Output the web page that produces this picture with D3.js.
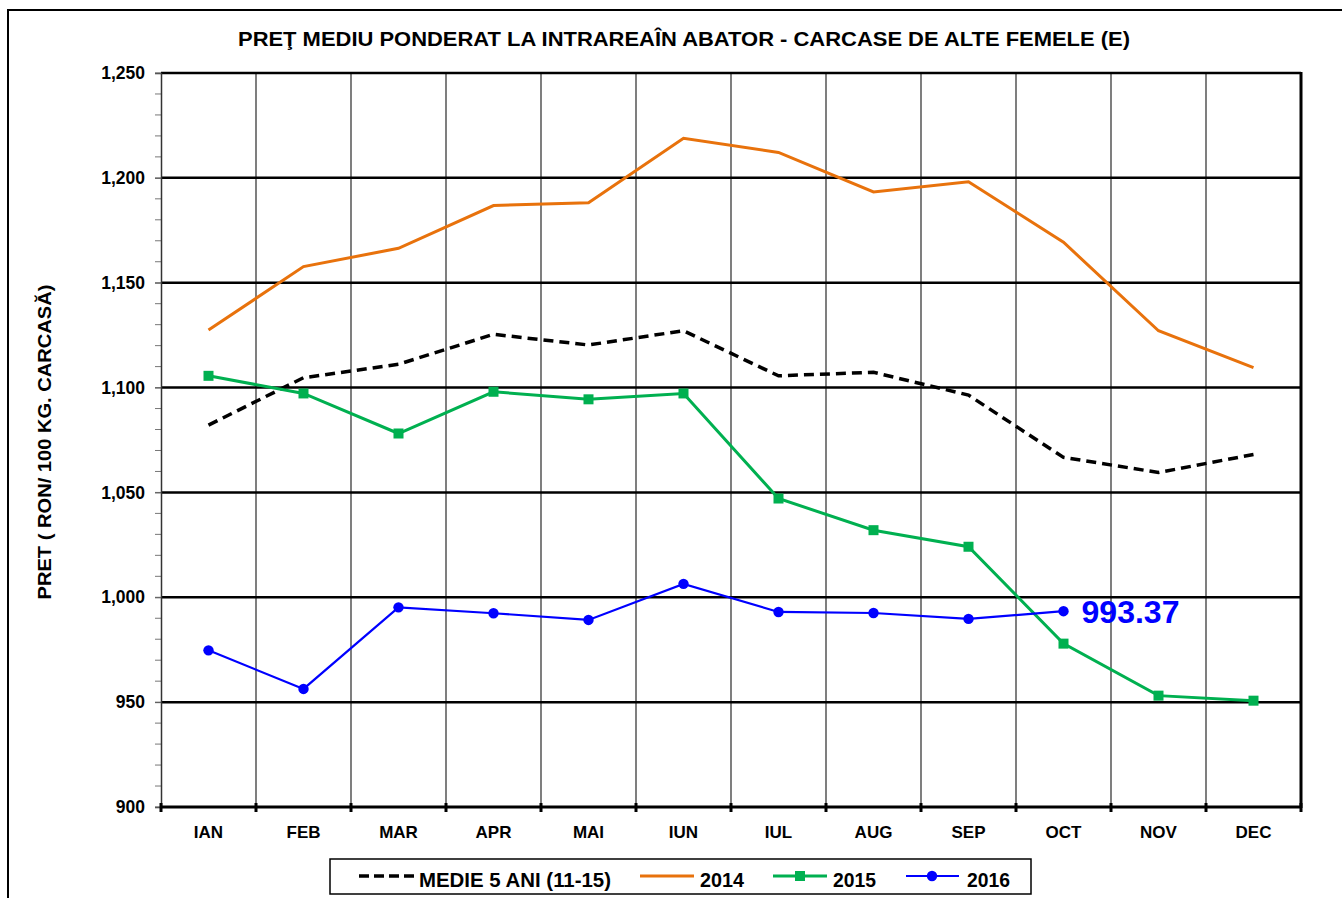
<!DOCTYPE html>
<html>
<head>
<meta charset="utf-8">
<script src="https://cdn.jsdelivr.net/npm/d3@7/dist/d3.min.js"></script>
<style>
  html, body { margin: 0; padding: 0; background: #fff; }
  svg { display: block; font-family: "Liberation Sans", Arial, sans-serif; }
</style>
</head>
<body>
<svg id="chart" width="1342" height="898"></svg>
<script>
const months = ["IAN","FEB","MAR","APR","MAI","IUN","IUL","AUG","SEP","OCT","NOV","DEC"];
const medie5 = [1082.1,1104.7,1111.1,1125.4,1120.3,1127.1,1105.6,1107.3,1096.4,1066.7,1059.5,1068.1];
const s2014  = [1127.4,1157.7,1166.4,1186.8,1188.1,1218.9,1212.1,1193.3,1198.1,1169.3,1127.1,1109.5];
const s2015  = [1105.6,1097.2,1078.1,1098.0,1094.4,1097.2,1047.1,1032.0,1024.1,977.9,953.1,950.7];
const s2016  = [974.7,956.3,995.2,992.4,989.2,1006.4,993.0,992.5,989.7,993.37];
const yTicks = [900,950,1000,1050,1100,1150,1200,1250];
const seriesNames = ["MEDIE 5 ANI (11-15)","2014","2015","2016"];
const titleText = "PREŢ MEDIU PONDERAT LA INTRAREAÎN ABATOR - CARCASE DE ALTE  FEMELE (E)";
const yTitle = "PRET ( RON/ 100 KG. CARCASĂ)";
const lastLabel = "993.37";

const svg = d3.select("#chart");
const L = 161, R = 1301, T = 73, B = 807;

const x = d3.scaleBand().domain(months).range([L, R]).padding(0);
const cx = m => x(m) + x.bandwidth() / 2;
const y = d3.scaleLinear().domain([900, 1250]).range([B, T]);

// outer frame
svg.append("path").attr("d", `M8,898 L8,10 L1342,10`).attr("fill","none").attr("stroke","#000").attr("stroke-width",2);

// title
svg.append("text").attr("x", 238).attr("y", 46)
  .attr("textLength", 892).attr("lengthAdjust","spacingAndGlyphs")
  .attr("font-size", 21).attr("font-weight","bold").text(titleText);

// vertical gridlines at band boundaries
const bounds = months.slice(1).map(m => x(m));
svg.append("g").selectAll("line").data(bounds).join("line")
  .attr("x1", d => d).attr("x2", d => d).attr("y1", T).attr("y2", B)
  .attr("stroke", "#3a3a3a").attr("stroke-width", 1.3);

// horizontal gridlines
svg.append("g").selectAll("line").data(yTicks.slice(1)).join("line")
  .attr("x1", L).attr("x2", R).attr("y1", d => y(d)).attr("y2", d => y(d))
  .attr("stroke", "#000").attr("stroke-width", 2.5);

// minor ticks on y
const minor = d3.range(900, 1251, 10);
svg.append("g").selectAll("line").data(minor).join("line")
  .attr("x1", L - 6).attr("x2", L).attr("y1", d => y(d)).attr("y2", d => y(d))
  .attr("stroke", "#777").attr("stroke-width", 1);

// y axis
const yAxis = d3.axisLeft(y).tickValues(yTicks).tickFormat(d3.format(",")).tickSize(6).tickPadding(10);
const gy = svg.append("g").attr("transform", `translate(${L},0)`).call(yAxis);
gy.select(".domain").attr("stroke","#333").attr("stroke-width",1.5);
gy.selectAll(".tick line").attr("stroke","#555");
gy.selectAll("text").attr("font-size",17.5).attr("font-weight","bold").attr("font-family","Liberation Sans, Arial, sans-serif").attr("fill","#000");

// right border
svg.append("line").attr("x1", R).attr("x2", R).attr("y1", T - 1).attr("y2", B + 1)
  .attr("stroke","#000").attr("stroke-width",3);

// x axis
const xAxis = d3.axisBottom(x).tickSize(0).tickPadding(19);
const gx = svg.append("g").attr("transform", `translate(0,${B})`).call(xAxis);
gx.select(".domain").remove();
gx.selectAll("text").attr("font-size",17).attr("font-weight","bold").attr("font-family","Liberation Sans, Arial, sans-serif").attr("fill","#000");
svg.append("line").attr("x1", L).attr("x2", R).attr("y1", B).attr("y2", B).attr("stroke","#000").attr("stroke-width",3);
svg.append("g").selectAll("line").data([L, ...bounds, R]).join("line")
  .attr("x1", d => d).attr("x2", d => d).attr("y1", B - 4).attr("y2", B + 5)
  .attr("stroke","#000").attr("stroke-width",3);

// lines
const line = d3.line().x((d,i) => cx(months[i])).y(d => y(d));
svg.append("path").datum(medie5).attr("d", line).attr("fill","none")
  .attr("stroke","#000").attr("stroke-width",3.5).attr("stroke-dasharray","10,6");
svg.append("path").datum(s2014).attr("d", line).attr("fill","none")
  .attr("stroke","#E8720C").attr("stroke-width",3);
svg.append("path").datum(s2015).attr("d", line).attr("fill","none")
  .attr("stroke","#00B050").attr("stroke-width",3);
svg.selectAll(".sq").data(s2015).join("rect").attr("class","sq")
  .attr("x",(d,i)=>cx(months[i])-5).attr("y",d=>y(d)-5).attr("width",10).attr("height",10)
  .attr("fill","#00B050");
svg.append("path").datum(s2016).attr("d", line).attr("fill","none")
  .attr("stroke","#0000FF").attr("stroke-width",2.2);
svg.selectAll(".dot").data(s2016).join("circle").attr("class","dot")
  .attr("cx",(d,i)=>cx(months[i])).attr("cy",d=>y(d)).attr("r",5.2).attr("fill","#0000FF");

// last value label
const li = s2016.length - 1;
svg.append("text").attr("x", cx(months[li]) + 18).attr("y", y(s2016[li]) + 12)
  .attr("textLength", 98).attr("lengthAdjust","spacingAndGlyphs")
  .attr("font-size",32).attr("font-weight","bold").attr("fill","#0000FF").text(lastLabel);

// y axis title
svg.append("text").attr("transform","translate(51,442) rotate(-90)")
  .attr("text-anchor","middle").attr("textLength", 315).attr("lengthAdjust","spacingAndGlyphs")
  .attr("font-size",18.5).attr("font-weight","bold").text(yTitle);

// legend
const lg = svg.append("g");
lg.append("rect").attr("x",330).attr("y",859).attr("width",701).attr("height",35)
  .attr("fill","#fff").attr("stroke","#000").attr("stroke-width",1.5);
const ly = 876;
lg.append("line").attr("x1",359).attr("x2",414).attr("y1",ly).attr("y2",ly)
  .attr("stroke","#000").attr("stroke-width",3.5).attr("stroke-dasharray","10,5");
lg.append("line").attr("x1",640).attr("x2",694).attr("y1",ly).attr("y2",ly)
  .attr("stroke","#E8720C").attr("stroke-width",3);
lg.append("line").attr("x1",773).attr("x2",827).attr("y1",ly).attr("y2",ly)
  .attr("stroke","#00B050").attr("stroke-width",3);
lg.append("rect").attr("x",795).attr("y",ly-5).attr("width",10).attr("height",10).attr("fill","#00B050");
lg.append("line").attr("x1",906).attr("x2",959).attr("y1",ly).attr("y2",ly)
  .attr("stroke","#0000FF").attr("stroke-width",2.2);
lg.append("circle").attr("cx",932).attr("cy",ly).attr("r",5.2).attr("fill","#0000FF");
const legTexts = [
  {t: seriesNames[0], x: 419, w: 192},
  {t: seriesNames[1], x: 700, w: 44},
  {t: seriesNames[2], x: 833, w: 43},
  {t: seriesNames[3], x: 967, w: 43}
];
lg.selectAll(".lt").data(legTexts).join("text").attr("class","lt")
  .attr("x", d => d.x).attr("y", 887).attr("textLength", d => d.w).attr("lengthAdjust","spacingAndGlyphs")
  .attr("font-size", 20).attr("font-weight","bold").text(d => d.t);
</script>
</body>
</html>
